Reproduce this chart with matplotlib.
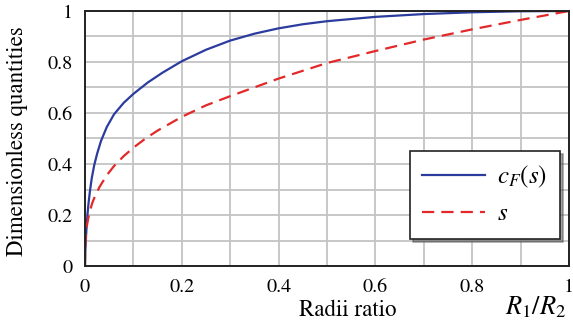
import matplotlib
matplotlib.use("Agg")
import matplotlib.pyplot as plt
import numpy as np

plt.rcParams['font.family'] = ['STIXGeneral', 'DejaVu Serif']
plt.rcParams['mathtext.fontset'] = 'stix'

# data
ratio_cf = [0, 0.0005, 0.001, 0.002, 0.003, 0.005, 0.0075, 0.0103, 0.014, 0.019, 0.025,
            0.033, 0.045, 0.06, 0.08, 0.1, 0.13, 0.16, 0.2, 0.25, 0.3, 0.35, 0.4,
            0.45, 0.5, 0.6, 0.7, 0.8, 0.9, 1.0]
cf_vals = [0, 0.045, 0.07, 0.11, 0.145, 0.20, 0.25, 0.295, 0.345, 0.395, 0.44,
           0.49, 0.545, 0.595, 0.64, 0.675, 0.72, 0.758, 0.803, 0.848, 0.884, 0.911, 0.932,
           0.948, 0.96, 0.977, 0.988, 0.995, 0.999, 1.0]

ratio_s = [0, 0.0005, 0.001, 0.002, 0.004, 0.007, 0.01, 0.015, 0.02, 0.03, 0.045, 0.06,
           0.08, 0.1, 0.125, 0.15, 0.2, 0.25, 0.3, 0.4, 0.5, 0.6, 0.7, 0.8, 0.9, 1.0]
s_vals = [0, 0.08, 0.10, 0.126, 0.159, 0.19, 0.215, 0.247, 0.271, 0.31, 0.356, 0.392,
          0.431, 0.464, 0.50, 0.531, 0.585, 0.63, 0.666, 0.735, 0.796, 0.843, 0.888,
          0.928, 0.965, 1.0]

major_ticks = [0, 0.2, 0.4, 0.6, 0.8, 1]
tick_labels = ['0', '0.2', '0.4', '0.6', '0.8', '1']

fig = plt.figure(figsize=(5.73, 3.24), dpi=100)
ax = fig.add_axes([85/573, 1-266/324, 484/573, 255/324])

ax.plot(ratio_cf, cf_vals, color='#2B3C9E', lw=1.6, label=r'$c_F(s)$', zorder=3)
ax.plot(ratio_s, s_vals, color='#E3282A', lw=1.6, ls=(0, (5.5, 3.2)), label=r'$s$', zorder=3)

ax.set_xlim(0, 1)
ax.set_ylim(0, 1)
ax.set_xticks(major_ticks)
ax.set_xticklabels(tick_labels)
ax.set_yticks(major_ticks)
ax.set_yticklabels(tick_labels)
ax.set_xticks(np.arange(0.1, 1.0, 0.2), minor=True)
ax.set_yticks(np.arange(0.1, 1.0, 0.2), minor=True)
ax.grid(True, which='both', color='#c4c4c4', lw=1.3, zorder=0)
ax.tick_params(which='both', length=0, labelsize=14.5)
ax.tick_params(axis='x', pad=9)
ax.tick_params(axis='y', pad=9)
for sp in ax.spines.values():
    sp.set_linewidth(1.4)
    sp.set_color('#222222')
    sp.set_zorder(4)

ax.set_xlabel('Radii ratio', fontsize=16.5)
ax.xaxis.set_label_coords(0.543, -0.13)
ax.set_ylabel('Dimensionless quantities', fontsize=16.5)
ax.yaxis.set_label_coords(-0.118, 0.49)

fig.text(0.988, 0.05, r'$R_1/R_2$', fontsize=19, ha='right', va='center')

leg = ax.legend(loc='lower right', bbox_to_anchor=(0.981, 0.106), borderaxespad=0,
                fontsize=18, frameon=True, fancybox=False, shadow=True,
                edgecolor='#222222', framealpha=1, handlelength=2.5,
                handletextpad=0.5, borderpad=0.5, labelspacing=0.5)
leg.get_frame().set_linewidth(1.2)

fig.savefig('out.png', dpi=100)
